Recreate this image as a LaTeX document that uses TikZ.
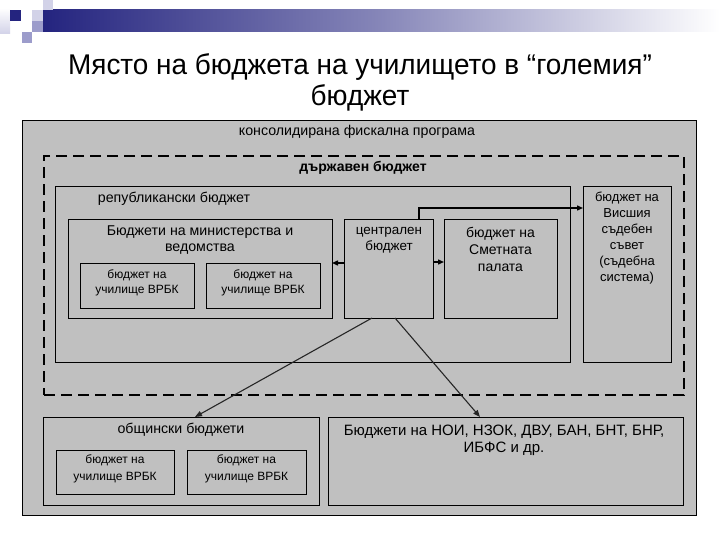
\documentclass[tikz,border=0pt]{standalone}
\usepackage{fontspec}
\setmainfont{Liberation Sans}
\newfontfamily\titlefont[FakeStretch=0.98]{Liberation Sans}
\usetikzlibrary{arrows.meta}
\definecolor{bggray}{HTML}{C0C0C0}
\definecolor{navy}{HTML}{24247F}
\definecolor{lav}{HTML}{9C9CCB}
\definecolor{lavlight}{HTML}{D2D2E8}
\tikzset{
  box/.style={draw=black, line width=0.9pt, fill=bggray, anchor=north west, inner sep=0pt, outer sep=0pt},
  txt/.style={inner sep=0pt, align=center, font=\fontsize{14.2}{16}\selectfont},
  smalltxt/.style={inner sep=0pt, align=center, font=\fontsize{12}{15}\selectfont},
  arr/.style={line width=1.4pt, -{Triangle[length=6pt,width=5pt]}},
  diag/.style={line width=1.1pt, draw=black!85, -{Triangle[length=7pt,width=5.5pt]}},
  sq/.style={draw=none}
}
\begin{document}
\begin{tikzpicture}[x=1pt,y=-1pt]
\useasboundingbox (0,0) rectangle (720,540);
\fill[white] (0,0) rectangle (720,540);
% decoration
\shade[left color=navy, right color=white, middle color=navy!55!white] (43,10) rectangle (720,32);
\shade[sq, top color=white, bottom color=lavlight] (0,8) rectangle (10,34);
\fill[navy] (10,10) rectangle (21,21);
\fill[lavlight] (43,0) rectangle (53,10);
\fill[lavlight] (32,10) rectangle (43,21);
\fill[lav] (32,21) rectangle (43,32);
\fill[lav] (22,32) rectangle (32,43);
% title
\node[inner sep=0pt, align=center, font=\titlefont\fontsize{28.5}{31}\selectfont] (title) at (360,82) {Място на бюджета на училището в “големия”\\бюджет};
% boxes
\node[box, minimum width=674pt, minimum height=395pt] (outer) at (22,120) {};
\node[txt] (tcons) at (357,132) {консолидирана фискална програма};
\node[draw=black, line width=2.4pt, dash pattern=on 11pt off 6pt, anchor=north west, inner sep=0pt, minimum width=640pt, minimum height=239pt] (state) at (43,155) {};
\node[txt, font=\bfseries\fontsize{14}{15}\selectfont] (tstate) at (363,168) {държавен бюджет};
\node[box, minimum width=515pt, minimum height=176pt] (rep) at (55,186) {};
\node[txt] (trep) at (174,199) {републикански бюджет};
\node[box, minimum width=264pt, minimum height=99pt] (min) at (68,219) {};
\node[txt] (tmin) at (200,240) {Бюджети на министерства и\\ведомства};
\node[box, minimum width=114pt, minimum height=45pt] (s1) at (80,263) {};
\node[smalltxt] (ts1) at (137,282.5) {бюджет на\\училище ВРБК};
\node[box, minimum width=114pt, minimum height=45pt] (s2) at (206,263) {};
\node[smalltxt] (ts2) at (263,282.5) {бюджет на\\училище ВРБК};
\node[box, minimum width=89pt, minimum height=99pt] (cen) at (344,219) {};
\node[txt, font=\fontsize{13.4}{16.5}\selectfont] (tcen) at (389,240) {централен\\бюджет};
\node[box, minimum width=113pt, minimum height=99pt] (smet) at (444,219) {};
\node[txt, font=\fontsize{14}{17}\selectfont] (tsmet) at (500.5,249) {бюджет на\\Сметната\\палата};
\node[box, minimum width=88pt, minimum height=176pt] (vss) at (583,186) {};
\node[txt, font=\fontsize{13}{16}\selectfont] (tvss) at (627,238) {бюджет на\\Висшия\\съдебен\\съвет\\(съдебна\\система)};
\node[box, minimum width=276pt, minimum height=88pt] (obs) at (43,417) {};
\node[txt] (tobs) at (181,430) {общински бюджети};
\node[box, minimum width=118pt, minimum height=44pt] (o1) at (56,450) {};
\node[smalltxt, font=\fontsize{12}{17}\selectfont] (to1) at (115,468.5) {бюджет на\\училище ВРБК};
\node[box, minimum width=119pt, minimum height=44pt] (o2) at (187,450) {};
\node[smalltxt, font=\fontsize{12}{17}\selectfont] (to2) at (246.5,468.5) {бюджет на\\училище ВРБК};
\node[box, minimum width=355pt, minimum height=88pt] (noi) at (328,417) {};
\node[txt, font=\fontsize{15}{17}\selectfont] (tnoi) at (504,440) {Бюджети на НОИ, НЗОК, ДВУ, БАН, БНТ, БНР,\\ИБФС и др.};
% connectors
\draw[arr] ([yshift=5.5pt]cen.west) -- ([yshift=5.5pt]min.east);
\draw[arr] ([yshift=6.5pt]cen.east) -- ([yshift=6.5pt]smet.west);
\draw[arr] ([xshift=30.5pt]cen.north) |- ([yshift=66pt]vss.west);
\draw[diag] ([xshift=-16.5pt]cen.south) -- ([xshift=14pt]obs.north);
\draw[diag] ([xshift=6.5pt]cen.south) -- ([xshift=-25.5pt]noi.north);
\end{tikzpicture}
\end{document}
